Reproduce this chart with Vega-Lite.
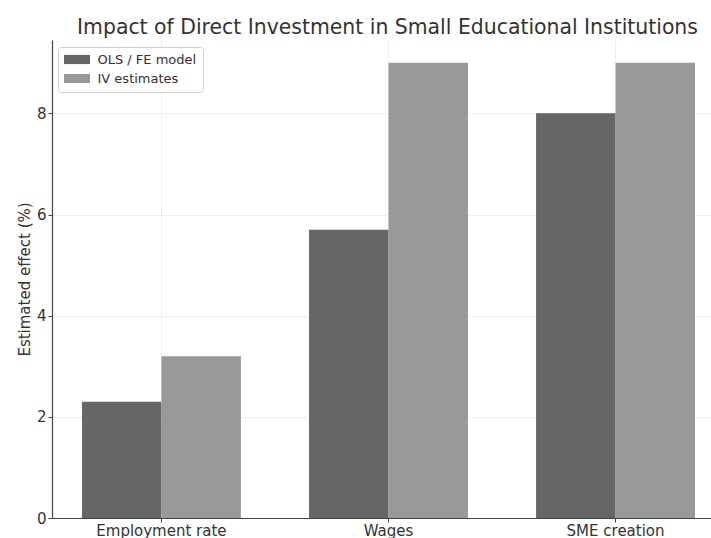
{
  "$schema": "https://vega.github.io/schema/vega-lite/v6.json",
  "autosize": {"type": "none"},
  "padding": {"left": 52, "top": 40, "right": 0, "bottom": 20},
  "width": 659,
  "height": 478,
  "title": {
    "text": "Impact of Direct Investment in Small Educational Institutions",
    "font": "DejaVu Sans",
    "fontSize": 20.4,
    "fontWeight": "normal",
    "color": "#333333",
    "anchor": "middle",
    "dx": 6,
    "offset": 2
  },
  "config": {
    "font": "DejaVu Sans",
    "view": {"stroke": null},
    "axis": {
      "labelFont": "DejaVu Sans",
      "titleFont": "DejaVu Sans",
      "labelColor": "#333333",
      "titleColor": "#333333",
      "domainColor": "#444444",
      "tickColor": "#444444",
      "gridColor": "#d9d9d9",
      "gridDash": [2, 2],
      "gridWidth": 0.8
    }
  },
  "data": {
    "values": [
      {"outcome": "Employment rate", "model": "OLS / FE model", "effect": 2.3},
      {"outcome": "Employment rate", "model": "IV estimates", "effect": 3.2},
      {"outcome": "Wages", "model": "OLS / FE model", "effect": 5.7},
      {"outcome": "Wages", "model": "IV estimates", "effect": 9.0},
      {"outcome": "SME creation", "model": "OLS / FE model", "effect": 8.0},
      {"outcome": "SME creation", "model": "IV estimates", "effect": 9.0}
    ]
  },
  "mark": {"type": "bar"},
  "encoding": {
    "x": {
      "field": "outcome",
      "type": "nominal",
      "sort": ["Employment rate", "Wages", "SME creation"],
      "scale": {"range": [0, 673], "paddingInner": 0.3, "paddingOuter": 0.132},
      "axis": {
        "title": null,
        "labelAngle": 0,
        "labelFontSize": 15,
        "labelPadding": 1,
        "tickSize": 4,
        "grid": true,
        "domainWidth": 1.2
      }
    },
    "xOffset": {
      "field": "model",
      "type": "nominal",
      "sort": ["OLS / FE model", "IV estimates"]
    },
    "y": {
      "field": "effect",
      "type": "quantitative",
      "scale": {"domain": [0, 9.45], "nice": false},
      "axis": {
        "title": "Estimated effect (%)",
        "values": [0, 2, 4, 6, 8],
        "labelFontSize": 15,
        "titleFontSize": 15,
        "titleFontWeight": "normal",
        "tickSize": 4,
        "labelPadding": 2,
        "titlePadding": 4,
        "domainWidth": 1.2,
        "grid": true
      }
    },
    "color": {
      "field": "model",
      "type": "nominal",
      "sort": ["OLS / FE model", "IV estimates"],
      "scale": {"domain": ["OLS / FE model", "IV estimates"], "range": ["#666666", "#999999"]},
      "legend": {
        "title": null,
        "orient": "none",
        "legendX": 6,
        "legendY": 7,
        "padding": 6,
        "fillColor": "#ffffff",
        "strokeColor": "#d0d0d0",
        "cornerRadius": 3,
        "symbolType": "M-2,-0.7L2,-0.7L2,0.7L-2,0.7Z",
        "symbolSize": 169,
        "symbolOffset": 6.5,
        "symbolStrokeWidth": 0,
        "symbolOpacity": 1,
        "labelFontSize": 13,
        "labelColor": "#333333",
        "labelOffset": 14,
        "rowPadding": 5
      }
    }
  }
}
